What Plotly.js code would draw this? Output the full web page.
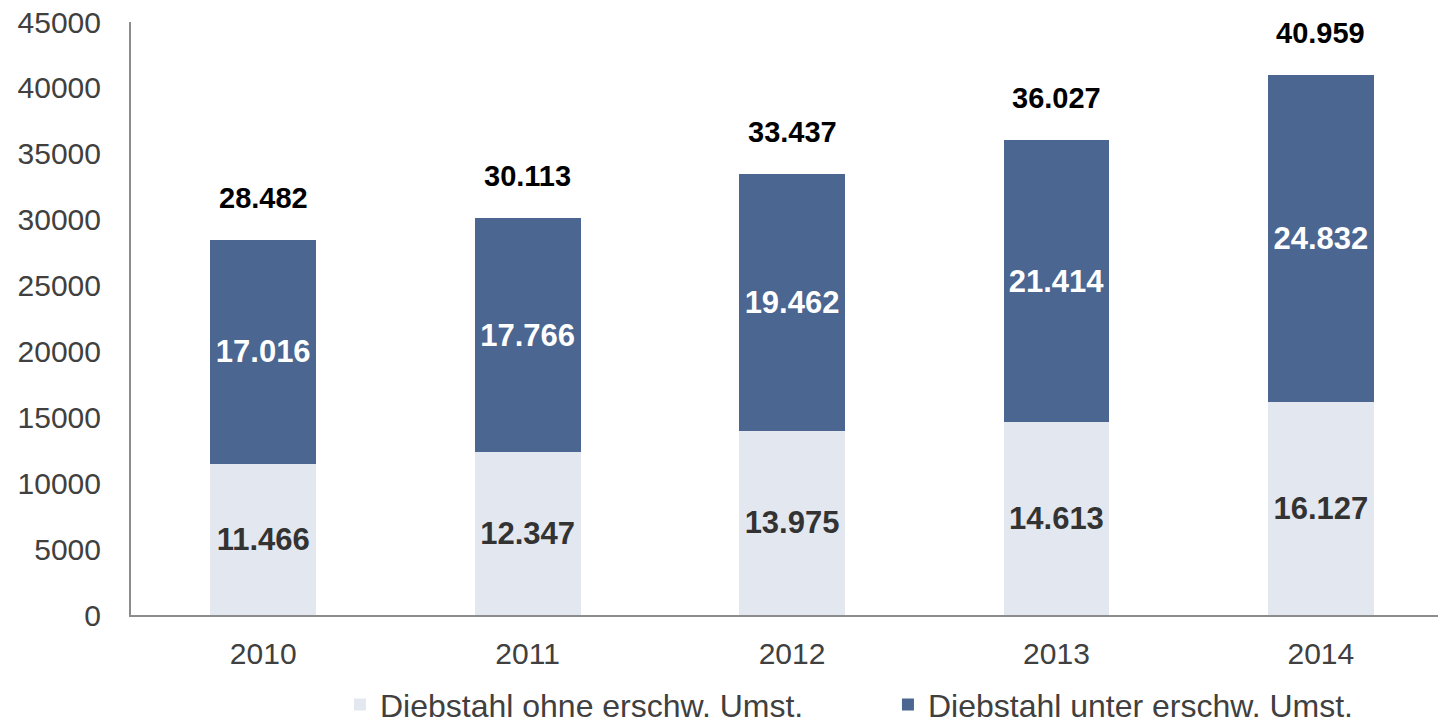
<!DOCTYPE html>
<html>
<head>
<meta charset="utf-8">
<script src="https://cdn.plot.ly/plotly-3.0.1.min.js"></script>
<style>html,body{margin:0;padding:0;background:#fff;}#chart{width:1438px;height:725px;}</style>
</head>
<body>
<div id="chart"></div>
<script>
const years = ["2010", "2011", "2012", "2013", "2014"];
const ohneErschw = [11466, 12347, 13975, 14613, 16127];
const unterErschw = [17016, 17766, 19462, 21414, 24832];
const seriesNames = ["Diebstahl ohne erschw. Umst.", "Diebstahl unter erschw. Umst."];
const totals = years.map((_, i) => ohneErschw[i] + unterErschw[i]);

const FONT = "Liberation Sans, Arial, sans-serif";

function fmtDE(n) {
  return String(Math.round(n)).replace(/\B(?=(\d{3})+(?!\d))/g, ".");
}

const traces = [
  {
    type: "bar", x: years, y: ohneErschw, name: seriesNames[0],
    marker: {color: "#E3E7EF"}, width: 0.4,
    texttemplate: "%{y:,.0f}", textposition: "inside", insidetextanchor: "middle",
    constraintext: "none",
    textfont: {family: FONT, size: 31, color: "#333333", weight: "bold"},
    hoverinfo: "skip"
  },
  {
    type: "bar", x: years, y: unterErschw, name: seriesNames[1],
    marker: {color: "#4A6691"}, width: 0.4,
    texttemplate: "%{y:,.0f}", textposition: "inside", insidetextanchor: "middle",
    constraintext: "none",
    textfont: {family: FONT, size: 31, color: "#FFFFFF", weight: "bold"},
    hoverinfo: "skip"
  }
];

const annotations = totals.map((t, i) => ({
  x: i, y: t, xref: "x", yref: "y",
  text: "<b>" + fmtDE(t) + "</b>",
  showarrow: false, yanchor: "bottom", yshift: 24,
  font: {family: FONT, size: 29, color: "#000000"}
}));

const layout = {
  width: 1438, height: 725,
  margin: {l: 131, r: 0, t: 22, b: 110, autoexpand: false},
  barmode: "stack",
  separators: ",.",
  paper_bgcolor: "#FFFFFF", plot_bgcolor: "#FFFFFF",
  font: {family: FONT, size: 30, color: "#404040"},
  showlegend: true,
  legend: {
    orientation: "h", xref: "container", yref: "container",
    x: 0.2364, xanchor: "left", y: 0.028, yanchor: "middle",
    font: {family: FONT, size: 32, color: "#404040"},
    traceorder: "normal", entrywidth: 503, itemclick: false
  },
  xaxis: {
    type: "category", range: [-0.5, 4.443], autorange: false,
    showline: true, linecolor: "#8C8C8C", linewidth: 2,
    showgrid: false, zeroline: false, ticks: "",
    ticklabelstandoff: 11,
    tickfont: {family: FONT, size: 30, color: "#404040"}
  },
  yaxis: {
    range: [0, 45000], autorange: false, dtick: 5000, tickformat: "d",
    showline: true, linecolor: "#8C8C8C", linewidth: 2,
    showgrid: false, zeroline: false, ticks: "",
    ticklabelstandoff: 22,
    tickfont: {family: FONT, size: 30, color: "#404040"}
  },
  annotations: annotations
};

Plotly.newPlot("chart", traces, layout, {displayModeBar: false, staticPlot: true});
</script>
</body>
</html>
